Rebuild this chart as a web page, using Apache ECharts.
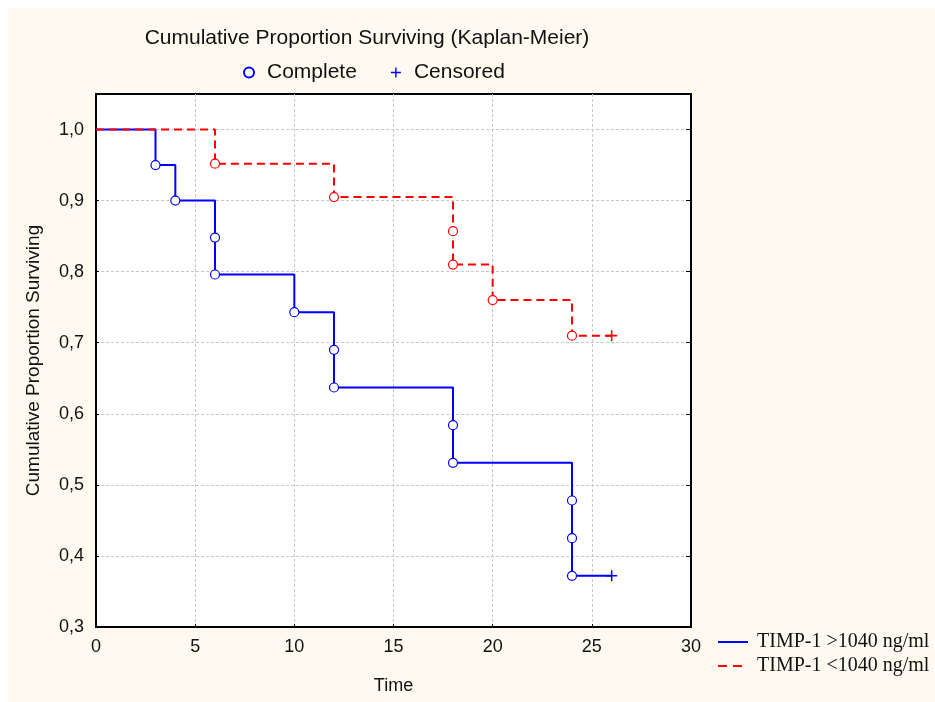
<!DOCTYPE html>
<html>
<head>
<meta charset="utf-8">
<script src="https://cdn.jsdelivr.net/npm/echarts@6/dist/echarts.min.js"></script>
<style>
  body { margin: 0; background: #fff; }
  #chart { position: absolute; left: 8px; top: 8px; width: 927px; height: 694px; background: #fefaef; }
</style>
</head>
<body>
<div id="chart"></div>
<script>
// Kaplan-Meier
const highName = 'TIMP-1 >1040 ng/ml'
const lowName = 'TIMP-1 <1040 ng/ml'

// group TIMP-1 >1040 (blue)
const highTimes = [3, 4, 6, 6, 10, 12, 12, 18, 18, 24, 24, 24]
const highSurv = [0.950, 0.900, 0.848, 0.796, 0.743, 0.690, 0.637, 0.584, 0.531, 0.478, 0.425, 0.372]
const highCensorTime = 26

// group TIMP-1 <1040 (red)
const lowTimes = [6, 12, 18, 18, 20, 24]
const lowSurv = [0.952, 0.905, 0.857, 0.810, 0.760, 0.710]
const lowCensorTime = 26

const xTicks = [0, 5, 10, 15, 20, 25, 30]
const yTicks = [0.3, 0.4, 0.5, 0.6, 0.7, 0.8, 0.9, 1.0]

const BLUE = '#0000ff'
const RED = '#ff0000'
const plus = 'path://M4.3,0h1.4v10h-1.4zM0,4.3h10v1.4h-10z'
const solidIcon = 'path://M0,0h30v2h-30z'
const dashIcon = 'path://M0,0h9v2h-9zM15,0h9v2h-9zM30,0h0.01v2h-0.01z'

// step path: start at (0,1), each event, then flat to censor time
function stepData(times, surv, tEnd) {
  let d = [[0, 1]]
  times.forEach((t, i) => d.push([t, surv[i]]))
  d.push([tEnd, surv[surv.length - 1]])
  return d
}

let completePts = []
highTimes.forEach((t, i) => completePts.push({ value: [t, highSurv[i]] }))
lowTimes.forEach((t, i) => completePts.push({ value: [t, lowSurv[i]], itemStyle: { borderColor: RED } }))

let censorPts = [
  { value: [highCensorTime, highSurv[highSurv.length - 1]] },
  { value: [lowCensorTime, lowSurv[lowSurv.length - 1]], itemStyle: { color: RED } }
]

const fmt = v => v > 1.001 ? '' : v.toFixed(1).replace('.', ',')
const sans = 'Liberation Sans, Arial, sans-serif'

let myChart = echarts.init(document.getElementById('chart'))
myChart.setOption({
  animation: false,
  textStyle: { fontFamily: sans },
  title: {
    text: 'Cumulative Proportion Surviving (Kaplan-Meier)',
    left: 354, top: 15, textAlign: 'center',
    textStyle: { fontSize: 21, fontWeight: 'normal', color: '#111', fontFamily: sans }
  },
  legend: [
    {
      data: ['Complete', 'Censored'],
      left: 230, top: 49,
      itemWidth: 10, itemHeight: 10, itemGap: 34,
      textStyle: { fontSize: 21, color: '#111', fontFamily: sans, padding: [0, 0, 0, 8] }
    },
    {
      data: [{ name: highName, icon: solidIcon }, { name: lowName, icon: dashIcon }],
      orient: 'vertical',
      left: 705, top: 619,
      itemWidth: 30, itemHeight: 2, itemGap: 4,
      textStyle: { fontSize: 20, color: '#111', fontFamily: 'Liberation Serif', padding: [0, 0, 0, 4] }
    }
  ],
  grid: {
    left: 88, right: 244, top: 86, bottom: 75,
    show: true, backgroundColor: '#fff', borderColor: '#000', borderWidth: 2
  },
  xAxis: {
    type: 'value', min: 0, max: 30, interval: 5,
    name: 'Time', nameLocation: 'middle', nameGap: 50,
    nameTextStyle: { fontSize: 18, color: '#111' },
    axisLine: { lineStyle: { color: '#000', width: 2 } },
    axisTick: { inside: true, length: 3, lineStyle: { color: '#000' } },
    axisLabel: { fontSize: 18, color: '#111', margin: 11 },
    splitLine: { showMinLine: false, showMaxLine: false, lineStyle: { color: '#c8c8c8', type: [3, 2] } }
  },
  yAxis: [
    {
      type: 'value', min: 0.3, max: 1.05, interval: 0.1,
      name: 'Cumulative Proportion Surviving', nameLocation: 'middle', nameGap: 53,
      nameTextStyle: { fontSize: 19, color: '#111' },
      axisLine: { show: true, lineStyle: { color: '#000', width: 2 } },
      axisTick: { show: true, inside: true, length: 3, lineStyle: { color: '#000' } },
      axisLabel: { fontSize: 18, color: '#111', margin: 12, formatter: fmt },
      splitLine: { showMinLine: false, showMaxLine: false, lineStyle: { color: '#c8c8c8', type: [3, 2] } }
    },
    {
      type: 'value', min: 0.3, max: 1.05, interval: 0.1, position: 'right',
      axisLine: { show: true, lineStyle: { color: '#000', width: 2 } },
      axisTick: { show: true, inside: true, length: 5, lineStyle: { color: '#000' } },
      axisLabel: { show: false },
      splitLine: { show: false }
    }
  ],
  series: [
    {
      name: highName, type: 'line', step: 'end', symbol: 'none',
      data: stepData(highTimes, highSurv, highCensorTime),
      lineStyle: { color: BLUE, width: 2 }, itemStyle: { color: BLUE }, z: 2
    },
    {
      name: lowName, type: 'line', step: 'end', symbol: 'none',
      data: stepData(lowTimes, lowSurv, lowCensorTime),
      lineStyle: { color: RED, width: 2, type: [8, 5] }, itemStyle: { color: RED }, z: 2
    },
    {
      name: 'Complete', type: 'scatter', symbol: 'circle', symbolSize: 9,
      data: completePts,
      itemStyle: { color: '#fff', borderColor: BLUE, borderWidth: 1.2, opacity: 1 }, z: 3
    },
    {
      name: 'Censored', type: 'scatter', symbol: plus, symbolSize: 11,
      data: censorPts,
      itemStyle: { color: BLUE, opacity: 1 }, z: 3
    }
  ]
})
</script>
</body>
</html>
